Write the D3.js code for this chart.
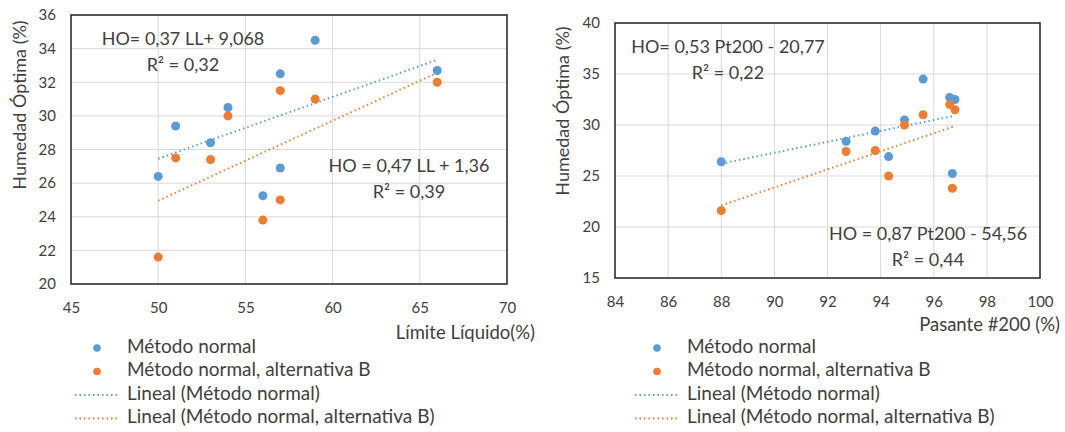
<!DOCTYPE html>
<html><head><meta charset="utf-8">
<script src="https://cdn.jsdelivr.net/npm/d3@7"></script>
<style>body{margin:0;background:#fff;} text{font-family:Lato, "Open Sans", sans-serif;fill:#404040;}</style>
</head><body><svg id="c" width="1065" height="432"></svg>
<script>
// Data
const LL = [50, 51, 53, 54, 56, 57, 57, 59, 66];
const P200 = [88, 93.8, 92.7, 94.9, 96.7, 96.8, 94.3, 95.6, 96.6];
const hoNormal = [26.4, 29.4, 28.4, 30.5, 25.25, 32.5, 26.9, 34.5, 32.7];
const hoAltB = [21.6, 27.5, 27.4, 30.0, 23.8, 31.5, 25.0, 31.0, 32.0];
const legendLabels = ["Método normal", "Método normal, alternativa B", "Lineal (Método normal)", "Lineal (Método normal, alternativa B)"];
const eqLeft = [["HO= 0,37 LL+ 9,068", "R² = 0,32"], ["HO = 0,47 LL + 1,36", "R² = 0,39"]];
const eqRight = [["HO= 0,53 Pt200 - 20,77", "R² = 0,22"], ["HO = 0,87 Pt200 - 54,56", "R² = 0,44"]];
const xTicksLeft = [45, 50, 55, 60, 65, 70];
const yTicksLeft = [20, 22, 24, 26, 28, 30, 32, 34, 36];
const xTicksRight = [84, 86, 88, 90, 92, 94, 96, 98, 100];
const yTicksRight = [15, 20, 25, 30, 35, 40];
const colors = ["#5B9BD5", "#ED7D31"];

const svg = d3.select("#c");

function fit(xs, ys) {
  const mx = d3.mean(xs), my = d3.mean(ys);
  let sxy = 0, sxx = 0;
  xs.forEach((x, i) => { sxy += (x - mx) * (ys[i] - my); sxx += (x - mx) ** 2; });
  const b = sxy / sxx; return {b, a: my - b * mx};
}

function chart(cfg) {
  const g = svg.append("g");
  const x = d3.scaleLinear().domain(cfg.xd).range([cfg.l, cfg.r]);
  const y = d3.scaleLinear().domain(cfg.yd).range([cfg.b, cfg.t]);
  // grid
  g.selectAll(".vg").data(cfg.xt).join("line").attr("x1", d => x(d)).attr("x2", d => x(d))
    .attr("y1", cfg.t).attr("y2", cfg.b).attr("stroke", "#d9d9d9").attr("stroke-width", 1);
  g.selectAll(".hg").data(cfg.yt).join("line").attr("y1", d => y(d)).attr("y2", d => y(d))
    .attr("x1", cfg.l).attr("x2", cfg.r).attr("stroke", "#d9d9d9").attr("stroke-width", 1);
  // axes labels via d3 axis
  const xa = g.append("g").attr("transform", `translate(0,${cfg.b})`)
    .call(d3.axisBottom(x).tickValues(cfg.xt).tickSize(0).tickPadding(cfg.xpad).tickFormat(d3.format("d")));
  xa.select(".domain").remove();
  xa.selectAll("text").style("font-size", "15px").style("font-family", "Lato").attr("fill", "#404040");
  const ya = g.append("g").attr("transform", `translate(${cfg.l},0)`)
    .call(d3.axisLeft(y).tickValues(cfg.yt).tickSize(0).tickPadding(cfg.ypad).tickFormat(d3.format("d")));
  ya.select(".domain").remove();
  ya.selectAll("text").style("font-size", "15px").style("font-family", "Lato").attr("fill", "#404040");
  // border
  g.append("rect").attr("x", cfg.l).attr("y", cfg.t).attr("width", cfg.r - cfg.l).attr("height", cfg.b - cfg.t)
    .attr("fill", "none").attr("stroke", "#262626").attr("stroke-width", 1.5);
  // trendlines
  cfg.series.forEach((ys, i) => {
    const f = fit(cfg.xs, ys);
    const x0 = d3.min(cfg.xs), x1 = d3.max(cfg.xs);
    g.append("line").attr("x1", x(x0)).attr("y1", y(f.a + f.b * x0)).attr("x2", x(x1)).attr("y2", y(f.a + f.b * x1))
      .attr("stroke", colors[i]).attr("stroke-width", 2).attr("stroke-dasharray", "1.5,3").attr("stroke-linecap", "butt");
  });
  // points
  cfg.series.forEach((ys, i) => {
    g.selectAll(".p" + i).data(ys).join("circle").attr("cx", (d, j) => x(cfg.xs[j])).attr("cy", d => y(d))
      .attr("r", 4.5).attr("fill", colors[i]);
  });
  // equations
  cfg.eq.forEach((lines, i) => {
    lines.forEach((s, k) => {
      g.append("text").attr("x", cfg.eqpos[i][0]).attr("y", cfg.eqpos[i][1] + k * 26).attr("text-anchor", "middle")
        .attr("dominant-baseline", "middle").style("font-size", "18px").attr("fill", "#262626").text(s);
    });
  });
  // axis titles
  g.append("text").attr("transform", `translate(${cfg.ytx},${cfg.yty}) rotate(-90)`).attr("text-anchor", "middle")
    .attr("dominant-baseline", "middle").style("font-size", "18px").text("Humedad Óptima (%)");
  g.append("text").attr("x", cfg.xtx).attr("y", cfg.xty).attr("text-anchor", "end").attr("dominant-baseline", "middle")
    .style("font-size", "18.5px").text(cfg.xtitle);
  // legend
  legendLabels.forEach((s, i) => {
    const ly = cfg.leg[1] + i * 23.5;
    if (i < 2) {
      g.append("circle").attr("cx", cfg.leg[0] + 22).attr("cy", ly).attr("r", 3.8).attr("fill", colors[i]);
    } else {
      g.append("line").attr("x1", cfg.leg[0]).attr("x2", cfg.leg[0] + 42).attr("y1", ly).attr("y2", ly)
        .attr("stroke", colors[i - 2]).attr("stroke-width", 2).attr("stroke-dasharray", "1.5,3");
    }
    g.append("text").attr("x", cfg.leg[0] + 52).attr("y", ly).attr("dominant-baseline", "middle")
      .style("font-size", "19px").text(s);
  });
}

chart({xd: [45, 70], yd: [20, 36], l: 71, r: 507, t: 15, b: 284, xt: xTicksLeft, yt: yTicksLeft,
  xpad: 18, ypad: 15, xs: LL, series: [hoNormal, hoAltB], eq: eqLeft,
  eqpos: [[183, 40], [409, 167]], ytx: 21, yty: 105, xtx: 535, xty: 334, xtitle: "Límite Líquido(%)",
  leg: [75, 348]});
chart({xd: [84, 100], yd: [15, 40], l: 615, r: 1040, t: 23, b: 278, xt: xTicksRight, yt: yTicksRight,
  xpad: 18, ypad: 15, xs: P200, series: [hoNormal, hoAltB], eq: eqRight,
  eqpos: [[728, 48], [928, 235]], ytx: 564, yty: 111, xtx: 1060, xty: 326, xtitle: "Pasante #200 (%)",
  leg: [635, 348]});
</script></body></html>
